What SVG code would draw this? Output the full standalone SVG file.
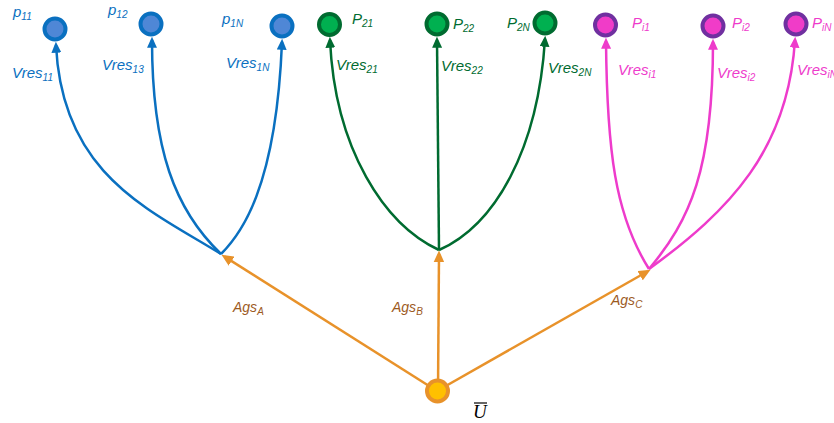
<svg xmlns="http://www.w3.org/2000/svg" width="834" height="423" viewBox="0 0 834 423">
<style>
.t{font-family:"Liberation Sans",Arial,sans-serif;font-style:italic;font-size:15px}
.s{font-size:10px}
.blue{fill:#0A70C0}.green{fill:#006B30}.pink{fill:#EE3BCB}.org{fill:#9C5A1E;font-size:14px}
.lb{fill:none;stroke:#0A70C0;stroke-width:2.5}
.lg{fill:none;stroke:#006B30;stroke-width:2.5}
.lp{fill:none;stroke:#EE3BCB;stroke-width:2.5}
.lo{fill:none;stroke:#E8922A;stroke-width:2.5}
.nb{fill:#4F87D6;stroke:#0A70C0;stroke-width:4}
.ng{fill:#00B050;stroke:#006B30;stroke-width:4}
.np{fill:#F03CC8;stroke:#7030A0;stroke-width:4}
.nu{fill:#FFC000;stroke:#E8922A;stroke-width:4}
</style>
<defs>
<marker id="ab" viewBox="0 0 10 9" refX="7" refY="4.5" markerWidth="11" markerHeight="10" markerUnits="userSpaceOnUse" orient="auto"><path d="M0,0 L10,4.5 L0,9 z" fill="#0A70C0"/></marker>
<marker id="ag" viewBox="0 0 10 9" refX="7" refY="4.5" markerWidth="11" markerHeight="10" markerUnits="userSpaceOnUse" orient="auto"><path d="M0,0 L10,4.5 L0,9 z" fill="#006B30"/></marker>
<marker id="ap" viewBox="0 0 10 9" refX="7" refY="4.5" markerWidth="11" markerHeight="10" markerUnits="userSpaceOnUse" orient="auto"><path d="M0,0 L10,4.5 L0,9 z" fill="#EE3BCB"/></marker>
<marker id="ao" viewBox="0 0 10 9" refX="7" refY="4.5" markerWidth="12" markerHeight="11" markerUnits="userSpaceOnUse" orient="auto"><path d="M0,0 L10,4.5 L0,9 z" fill="#E8922A"/></marker>
</defs>
<g id="connectors">
<path class="lb" d="M221,254 C150,210 62,175 56,45" marker-end="url(#ab)"/>
<path class="lb" d="M221,254 C175,210 152,150 152,40" marker-end="url(#ab)"/>
<path class="lb" d="M221,254 C240,235 276,190 282,42" marker-end="url(#ab)"/>
<path class="lg" d="M439,250 C385,225 335,150 330,40" marker-end="url(#ag)"/>
<path class="lg" d="M439,250 L437,40" marker-end="url(#ag)"/>
<path class="lg" d="M439,250 C495,225 538,150 545,39" marker-end="url(#ag)"/>
<path class="lp" d="M649,269 C615,215 607,150 606,41" marker-end="url(#ap)"/>
<path class="lp" d="M649,269 C690,220 713,170 713,42" marker-end="url(#ap)"/>
<path class="lp" d="M649,269 C730,210 788,150 795,40" marker-end="url(#ap)"/>
<path class="lo" d="M437,391 L224.5,256.6" marker-end="url(#ao)"/>
<path class="lo" d="M438,391 L439,254" marker-end="url(#ao)"/>
<path class="lo" d="M437,391 L647.4,271.5" marker-end="url(#ao)"/>
</g>
<g id="p11"><circle class="nb" cx="55" cy="29" r="10.5"/><text class="t blue" x="13" y="17">p<tspan class="s" dy="3">11</tspan></text></g>
<g id="p12"><circle class="nb" cx="151" cy="24" r="10.5"/><text class="t blue" x="108" y="15">p<tspan class="s" dy="3">12</tspan></text></g>
<g id="p1N"><circle class="nb" cx="282" cy="26" r="10.5"/><text class="t blue" x="222" y="24">p<tspan class="s" dy="3">1N</tspan></text></g>
<g id="P21"><circle class="ng" cx="329.5" cy="24.5" r="10.5"/><text class="t green" x="352" y="24">P<tspan class="s" dy="3">21</tspan></text></g>
<g id="P22"><circle class="ng" cx="437" cy="24" r="10.5"/><text class="t green" x="453" y="29">P<tspan class="s" dy="3">22</tspan></text></g>
<g id="P2N"><circle class="ng" cx="545" cy="23" r="10.5"/><text class="t green" x="507" y="28">P<tspan class="s" dy="3">2N</tspan></text></g>
<g id="Pi1"><circle class="np" cx="605.5" cy="25" r="10.5"/><text class="t pink" x="632" y="28">P<tspan class="s" dy="3">i1</tspan></text></g>
<g id="Pi2"><circle class="np" cx="713" cy="26" r="10.5"/><text class="t pink" x="732" y="28">P<tspan class="s" dy="3">i2</tspan></text></g>
<g id="PiN"><circle class="np" cx="796" cy="24" r="10.5"/><text class="t pink" x="812" y="28">P<tspan class="s" dy="3">iN</tspan></text></g>
<g id="U"><circle class="nu" cx="437.5" cy="391" r="10.5"/><text x="473" y="418" font-family="Liberation Serif,serif" font-style="italic" font-size="19" fill="#000">U</text><line x1="474" y1="403" x2="487" y2="403" stroke="#000" stroke-width="1.2"/></g>
<g id="edge-labels">
<text class="t blue" x="12" y="78">Vres<tspan class="s" dy="3">11</tspan></text>
<text class="t blue" x="102" y="70">Vres<tspan class="s" dy="3">13</tspan></text>
<text class="t blue" x="226" y="68">Vres<tspan class="s" dy="3">1N</tspan></text>
<text class="t green" x="336" y="70">Vres<tspan class="s" dy="3">21</tspan></text>
<text class="t green" x="441" y="71">Vres<tspan class="s" dy="3">22</tspan></text>
<text class="t green" x="548" y="73">Vres<tspan class="s" dy="3">2N</tspan></text>
<text class="t pink" x="618" y="75">Vres<tspan class="s" dy="3">i1</tspan></text>
<text class="t pink" x="717" y="78">Vres<tspan class="s" dy="3">i2</tspan></text>
<text class="t pink" x="797" y="75">Vres<tspan class="s" dy="3">iN</tspan></text>
<text class="t org" x="233" y="312">Ags<tspan class="s" dy="3">A</tspan></text>
<text class="t org" x="392" y="312">Ags<tspan class="s" dy="3">B</tspan></text>
<text class="t org" x="611" y="305">Ags<tspan class="s" dy="3">C</tspan></text>
</g>
</svg>
